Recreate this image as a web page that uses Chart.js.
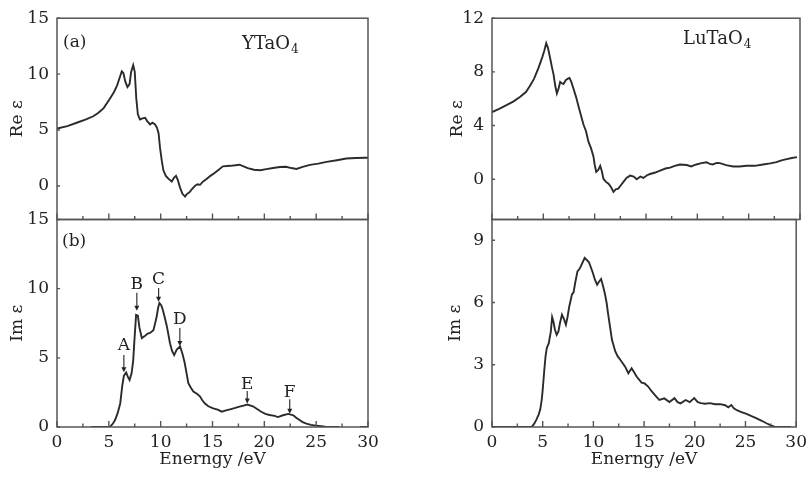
<!DOCTYPE html>
<html>
<head>
<meta charset="utf-8">
<script src="https://cdn.jsdelivr.net/npm/chart.js@4.4.1/dist/chart.umd.min.js"></script>
<style>
  body { margin: 0; background: #fff; }
  #wrap { position: relative; width: 812px; height: 478px; overflow: hidden; background: #fff; }
  canvas { position: absolute; }
</style>
</head>
<body>
<div id="wrap">
  <canvas id="reY" style="left:0;top:0" width="400" height="240"></canvas>
  <canvas id="reLu" style="left:435px;top:0" width="377" height="240"></canvas>
  <canvas id="imY" style="left:0;top:200px" width="400" height="278"></canvas>
  <canvas id="imLu" style="left:435px;top:200px" width="377" height="278"></canvas>
</div>
<script>
// ---- data (energy in eV) ----
const reYx = [0, 1, 1.9, 2.8, 3.5, 4.0, 4.5, 5.1, 5.5, 5.8, 6.05, 6.25, 6.4, 6.6, 6.8, 7.0, 7.15, 7.35, 7.5, 7.65,
  7.8, 8.0, 8.25, 8.5, 8.7, 8.98, 9.2, 9.46, 9.65, 9.8, 9.94, 10.1, 10.26, 10.5, 10.74, 11.07, 11.3, 11.48, 11.65, 11.87,
  12.1, 12.35, 12.5, 12.8, 13.0, 13.3, 13.55, 13.8, 14.1, 14.4, 14.8, 15.2, 15.6, 16.0, 16.7, 17.2, 17.6, 18.0, 18.4, 19.0,
  19.6, 20.2, 20.85, 21.5, 22.1, 22.6, 23.1, 23.7, 24.4, 25.2, 26.0, 27.0, 27.9, 28.8, 29.8, 30];
const reYy = [5.13, 5.35, 5.65, 5.95, 6.23, 6.55, 6.96, 7.8, 8.4, 9.0, 9.7, 10.25, 10.1, 9.3, 8.85, 9.1, 10.2, 10.8, 10.2, 7.8,
  6.4, 5.95, 6.05, 6.1, 5.8, 5.5, 5.65, 5.5, 5.2, 4.7, 3.4, 2.3, 1.4, 0.9, 0.65, 0.4, 0.75, 0.9, 0.55, -0.15,
  -0.7, -0.95, -0.75, -0.55, -0.3, 0.0, 0.15, 0.1, 0.4, 0.6, 0.9, 1.15, 1.45, 1.75, 1.8, 1.85, 1.9, 1.75, 1.6, 1.45,
  1.4, 1.5, 1.6, 1.7, 1.72, 1.6, 1.52, 1.7, 1.88, 2.0, 2.15, 2.3, 2.45, 2.5, 2.52, 2.52];

const imYx = [3.3, 5.1, 5.4, 5.6, 5.85, 6.1, 6.3, 6.45, 6.67, 6.85, 7.0, 7.2, 7.35, 7.47, 7.63, 7.8, 7.95, 8.18, 8.5, 8.75,
  8.98, 9.3, 9.5, 9.62, 9.75, 9.88, 10.05, 10.2, 10.4, 10.6, 10.9, 11.1, 11.3, 11.55, 11.87, 12.1, 12.3, 12.44, 12.67, 12.9,
  13.15, 13.5, 13.8, 14.0, 14.27, 14.6, 15.07, 15.5, 15.9, 16.3, 16.7, 17.2, 17.6, 18.0, 18.35, 18.9, 19.3, 19.7, 20.1, 20.5,
  21.0, 21.3, 21.8, 22.3, 22.8, 23.1, 23.4, 23.7, 24.06, 24.5, 25.0, 25.5, 26.0, 27.2, 28.0, 29.2, 30];
const imYy = [0, 0, 0.25, 0.5, 1.0, 1.7, 3.0, 3.7, 3.94, 3.6, 3.4, 3.9, 4.8, 6.3, 8.1, 8.05, 7.2, 6.43, 6.6, 6.75,
  6.8, 7.0, 7.6, 8.0, 8.6, 8.96, 8.8, 8.5, 7.9, 7.27, 6.06, 5.5, 5.2, 5.6, 5.82, 5.3, 4.7, 4.13, 3.17, 2.85,
  2.56, 2.4, 2.2, 1.95, 1.7, 1.5, 1.35, 1.25, 1.11, 1.2, 1.28, 1.38, 1.47, 1.55, 1.62, 1.5, 1.3, 1.1, 0.95, 0.87,
  0.8, 0.72, 0.85, 0.95, 0.85, 0.65, 0.5, 0.35, 0.25, 0.15, 0.1, 0.05, 0, 0, null, 0, 0];

const reLux = [0, 0.7, 1.46, 2.1, 2.75, 3.3, 3.72, 4.1, 4.53, 4.9, 5.1, 5.28, 5.45, 5.67, 5.85, 6.0, 6.15, 6.32, 6.5, 6.64,
  6.8, 6.96, 7.2, 7.4, 7.55, 7.75, 7.94, 8.2, 8.43, 8.65, 8.9, 9.15, 9.4, 9.65, 9.88, 10.0, 10.15, 10.35, 10.54, 10.7,
  10.86, 11.1, 11.35, 11.6, 11.83, 12.05, 12.3, 12.55, 12.8, 13.1, 13.45, 13.8, 14.1, 14.45, 14.75, 15.1, 15.4, 15.9, 16.37, 16.9,
  17.35, 17.8, 18.3, 18.97, 19.4, 19.9, 20.4, 20.9, 21.2, 21.5, 21.9, 22.2, 22.8, 23.5, 24.1, 24.8, 25.6, 26.4, 27.1, 27.7,
  28.2, 28.7, 29.2, 29.7];
const reLuy = [5.0, 5.25, 5.54, 5.8, 6.14, 6.5, 6.98, 7.5, 8.3, 9.1, 9.6, 10.14, 9.8, 9.0, 8.3, 7.8, 7.0, 6.4, 6.8, 7.25,
  7.15, 7.1, 7.4, 7.5, 7.55, 7.2, 6.74, 6.1, 5.42, 4.8, 4.1, 3.6, 2.78, 2.3, 1.7, 1.1, 0.55, 0.7, 1.0, 0.6,
  0.02, -0.2, -0.34, -0.6, -0.94, -0.75, -0.7, -0.45, -0.2, 0.1, 0.27, 0.2, 0.0, 0.2, 0.1, 0.3, 0.39, 0.5, 0.65, 0.8,
  0.87, 1.0, 1.1, 1.06, 0.95, 1.1, 1.2, 1.27, 1.15, 1.1, 1.22, 1.2, 1.05, 0.95, 0.95, 1.0, 1.0, 1.1, 1.18, 1.27,
  1.4, 1.5, 1.58, 1.65];

const imLux = [0, 3.9, 4.15, 4.37, 4.6, 4.76, 4.9, 5.0, 5.15, 5.28, 5.4, 5.6, 5.8, 5.93, 6.05, 6.2, 6.38, 6.55, 6.7, 6.9,
  7.1, 7.29, 7.45, 7.62, 7.88, 8.05, 8.2, 8.43, 8.6, 8.76, 8.95, 9.14, 9.35, 9.56, 9.75, 9.95, 10.15, 10.37, 10.55, 10.76,
  10.95, 11.12, 11.3, 11.44, 11.65, 11.83, 12.16, 12.4, 12.65, 13.13, 13.45, 13.77, 14.0, 14.26, 14.75, 15.05, 15.4, 15.7, 16.05, 16.5,
  17.0, 17.5, 18.0, 18.3, 18.6, 19.1, 19.5, 19.94, 20.3, 20.6, 21.0, 21.5, 22.0, 22.5, 23.0, 23.3, 23.6, 23.85, 24.15, 24.6,
  25.1, 25.6, 26.1, 26.6, 27.07, 27.5, 27.9, 29.5];
const imLuy = [0, 0, 0.15, 0.34, 0.6, 0.85, 1.3, 1.79, 2.7, 3.4, 3.8, 4.04, 4.6, 5.3, 5.1, 4.7, 4.44, 4.6, 5.0, 5.41,
  5.2, 4.93, 5.3, 5.81, 6.38, 6.5, 6.94, 7.5, 7.6, 7.74, 7.95, 8.15, 8.05, 7.94, 7.7, 7.42, 7.1, 6.86, 7.0, 7.13,
  6.8, 6.46, 6.0, 5.49, 4.8, 4.2, 3.64, 3.4, 3.24, 2.91, 2.59, 2.83, 2.65, 2.43, 2.14, 2.1, 1.95, 1.75, 1.55, 1.3,
  1.38, 1.2, 1.39, 1.2, 1.14, 1.3, 1.2, 1.39, 1.2, 1.15, 1.12, 1.15, 1.1, 1.1, 1.05, 0.95, 1.06, 0.9, 0.81, 0.72,
  0.63, 0.52, 0.42, 0.3, 0.18, 0.08, 0, 0];

const xMajor = [0, 5, 10, 15, 20, 25, 30];
const xMinor = [2.5, 7.5, 12.5, 17.5, 22.5, 27.5];
const reYTicks = [0, 5, 10, 15];
const imYTicks = [0, 5, 10, 15];
const reLuTicks = [0, 4, 8, 12];
const imLuTicks = [0, 3, 6, 9];

// peak markers A-F on Im eps of YTaO4: [letter, energy, letter y, arrow start y, arrow tip y]
const peakMarks = [
  ['A', 6.45, 5.87, 5.2, 3.95],
  ['B', 7.7, 10.3, 9.7, 8.4],
  ['C', 9.8, 10.65, 10.05, 9.05],
  ['D', 11.85, 7.75, 7.15, 5.85],
  ['E', 18.35, 3.1, 2.6, 1.7],
  ['F', 22.45, 2.5, 2.0, 0.95]
];

Chart.defaults.font.family = 'DejaVu Serif';
Chart.defaults.font.size = 17;
Chart.defaults.color = '#222';

const framePlugin = {
  id: 'frame',
  afterDatasetsDraw(chart, args, o) {
    const { ctx, chartArea: a } = chart;
    const x = chart.scales.x, y = chart.scales.y;
    ctx.save();
    ctx.strokeStyle = '#555';
    ctx.lineWidth = 1.5;
    ctx.strokeRect(a.left, a.top, a.right - a.left, a.bottom - a.top);
    ctx.lineWidth = 1.4;
    ctx.beginPath();
    xMinor.forEach(v => {
      const px = x.getPixelForValue(v);
      ctx.moveTo(px, a.bottom); ctx.lineTo(px, a.bottom - 3.5);
    });
    xMajor.forEach(v => {
      const px = x.getPixelForValue(v);
      ctx.moveTo(px, a.bottom); ctx.lineTo(px, a.bottom - 6);
    });
    o.yTicks.forEach(v => {
      const py = y.getPixelForValue(v);
      ctx.moveTo(a.left, py); ctx.lineTo(a.left + 3, py);
    });
    ctx.stroke();

    ctx.fillStyle = '#222';
    ctx.textBaseline = 'alphabetic';
    ctx.textAlign = 'left';
    (o.texts || []).forEach(t => {
      ctx.font = (t.size || 17) + 'px "DejaVu Serif"';
      ctx.fillText(t.text, a.left + t.dx, a.top + t.dy);
      if (t.sub) {
        const w = ctx.measureText(t.text).width;
        ctx.font = '12px "DejaVu Serif"';
        ctx.fillText(t.sub, a.left + t.dx + w + 1, a.top + t.dy + 4);
      }
    });

    if (o.marks) {
      ctx.font = '17px "DejaVu Serif"';
      ctx.textAlign = 'center';
      ctx.textBaseline = 'middle';
      ctx.strokeStyle = '#333';
      ctx.lineWidth = 1.2;
      o.marks.forEach(([lab, ex, ly, y1, y2]) => {
        const px = x.getPixelForValue(ex);
        ctx.fillText(lab, px, y.getPixelForValue(ly));
        const p1 = y.getPixelForValue(y1), p2 = y.getPixelForValue(y2);
        ctx.beginPath();
        ctx.moveTo(px, p1); ctx.lineTo(px, p2 - 4);
        ctx.stroke();
        ctx.beginPath();
        ctx.moveTo(px - 2.5, p2 - 5); ctx.lineTo(px + 2.5, p2 - 5); ctx.lineTo(px, p2);
        ctx.closePath();
        ctx.fill();
      });
    }
    ctx.restore();
  }
};

function makeChart(id, xs, ys, cfg) {
  const pts = xs.map((v, i) => ({ x: v, y: ys[i] }));
  return new Chart(document.getElementById(id), {
    type: 'line',
    data: {
      datasets: [{
        data: pts,
        borderColor: '#2b2b2b',
        borderWidth: 1.9,
        pointRadius: 0,
        tension: 0,
        spanGaps: false
      }]
    },
    options: {
      responsive: false,
      animation: false,
      layout: { padding: cfg.padding },
      plugins: {
        legend: { display: false },
        tooltip: { enabled: false },
        frame: { yTicks: cfg.yTicks, texts: cfg.texts, marks: cfg.marks }
      },
      scales: {
        x: {
          type: 'linear',
          min: 0, max: 30,
          display: cfg.showX,
          grid: { display: false, drawTicks: false },
          border: { display: false },
          afterBuildTicks: s => { s.ticks = xMajor.map(v => ({ value: v })); },
          afterFit: s => { s.height = cfg.showX ? 51 : 0; },
          ticks: { padding: 5, maxRotation: 0, color: '#222', font: { size: 17 } },
          title: { display: true, text: 'Enerngy /eV', color: '#222', font: { size: 17 }, padding: { top: 0, bottom: 8 } }
        },
        y: {
          min: cfg.yMin, max: cfg.yMax,
          grid: { display: false, drawTicks: false },
          border: { display: false },
          afterBuildTicks: s => { s.ticks = cfg.yTicks.map(v => ({ value: v })); },
          afterFit: s => { s.width = 57; },
          ticks: { padding: 8, color: '#222', font: { size: 17 } },
          title: { display: true, text: cfg.yTitle, color: '#222', font: { size: 17 }, padding: { top: cfg.titlePad, bottom: 0 } }
        }
      }
    },
    plugins: [framePlugin]
  });
}

makeChart('reY', reYx, reYy, {
  padding: { top: 12, right: 32, bottom: 20.5, left: 0 },
  showX: false, yMin: -3, yMax: 15, yTicks: reYTicks, yTitle: 'Re ε', titlePad: 7,
  texts: [{ text: '(a)', dx: 6, dy: 29 }, { text: 'YTaO', sub: '4', dx: 185, dy: 31, size: 18 }]
});
makeChart('reLu', reLux, reLuy, {
  padding: { top: 12, right: 12, bottom: 20.5, left: 0 },
  showX: false, yMin: -3, yMax: 12, yTicks: reLuTicks, yTitle: 'Re ε', titlePad: 12,
  texts: [{ text: 'LuTaO', sub: '4', dx: 191, dy: 26, size: 18 }]
});
makeChart('imY', imYx, imYy, {
  padding: { top: 19.5, right: 32, bottom: 0, left: 0 },
  showX: true, yMin: 0, yMax: 15, yTicks: imYTicks, yTitle: 'Im ε', titlePad: 7,
  texts: [{ text: '(b)', dx: 5, dy: 26.5 }],
  marks: peakMarks
});
makeChart('imLu', imLux, imLuy, {
  padding: { top: 19.5, right: 12, bottom: 0, left: 0 },
  showX: true, yMin: 0, yMax: 10, yTicks: imLuTicks, yTitle: 'Im ε', titlePad: 10
});
</script>
</body>
</html>
